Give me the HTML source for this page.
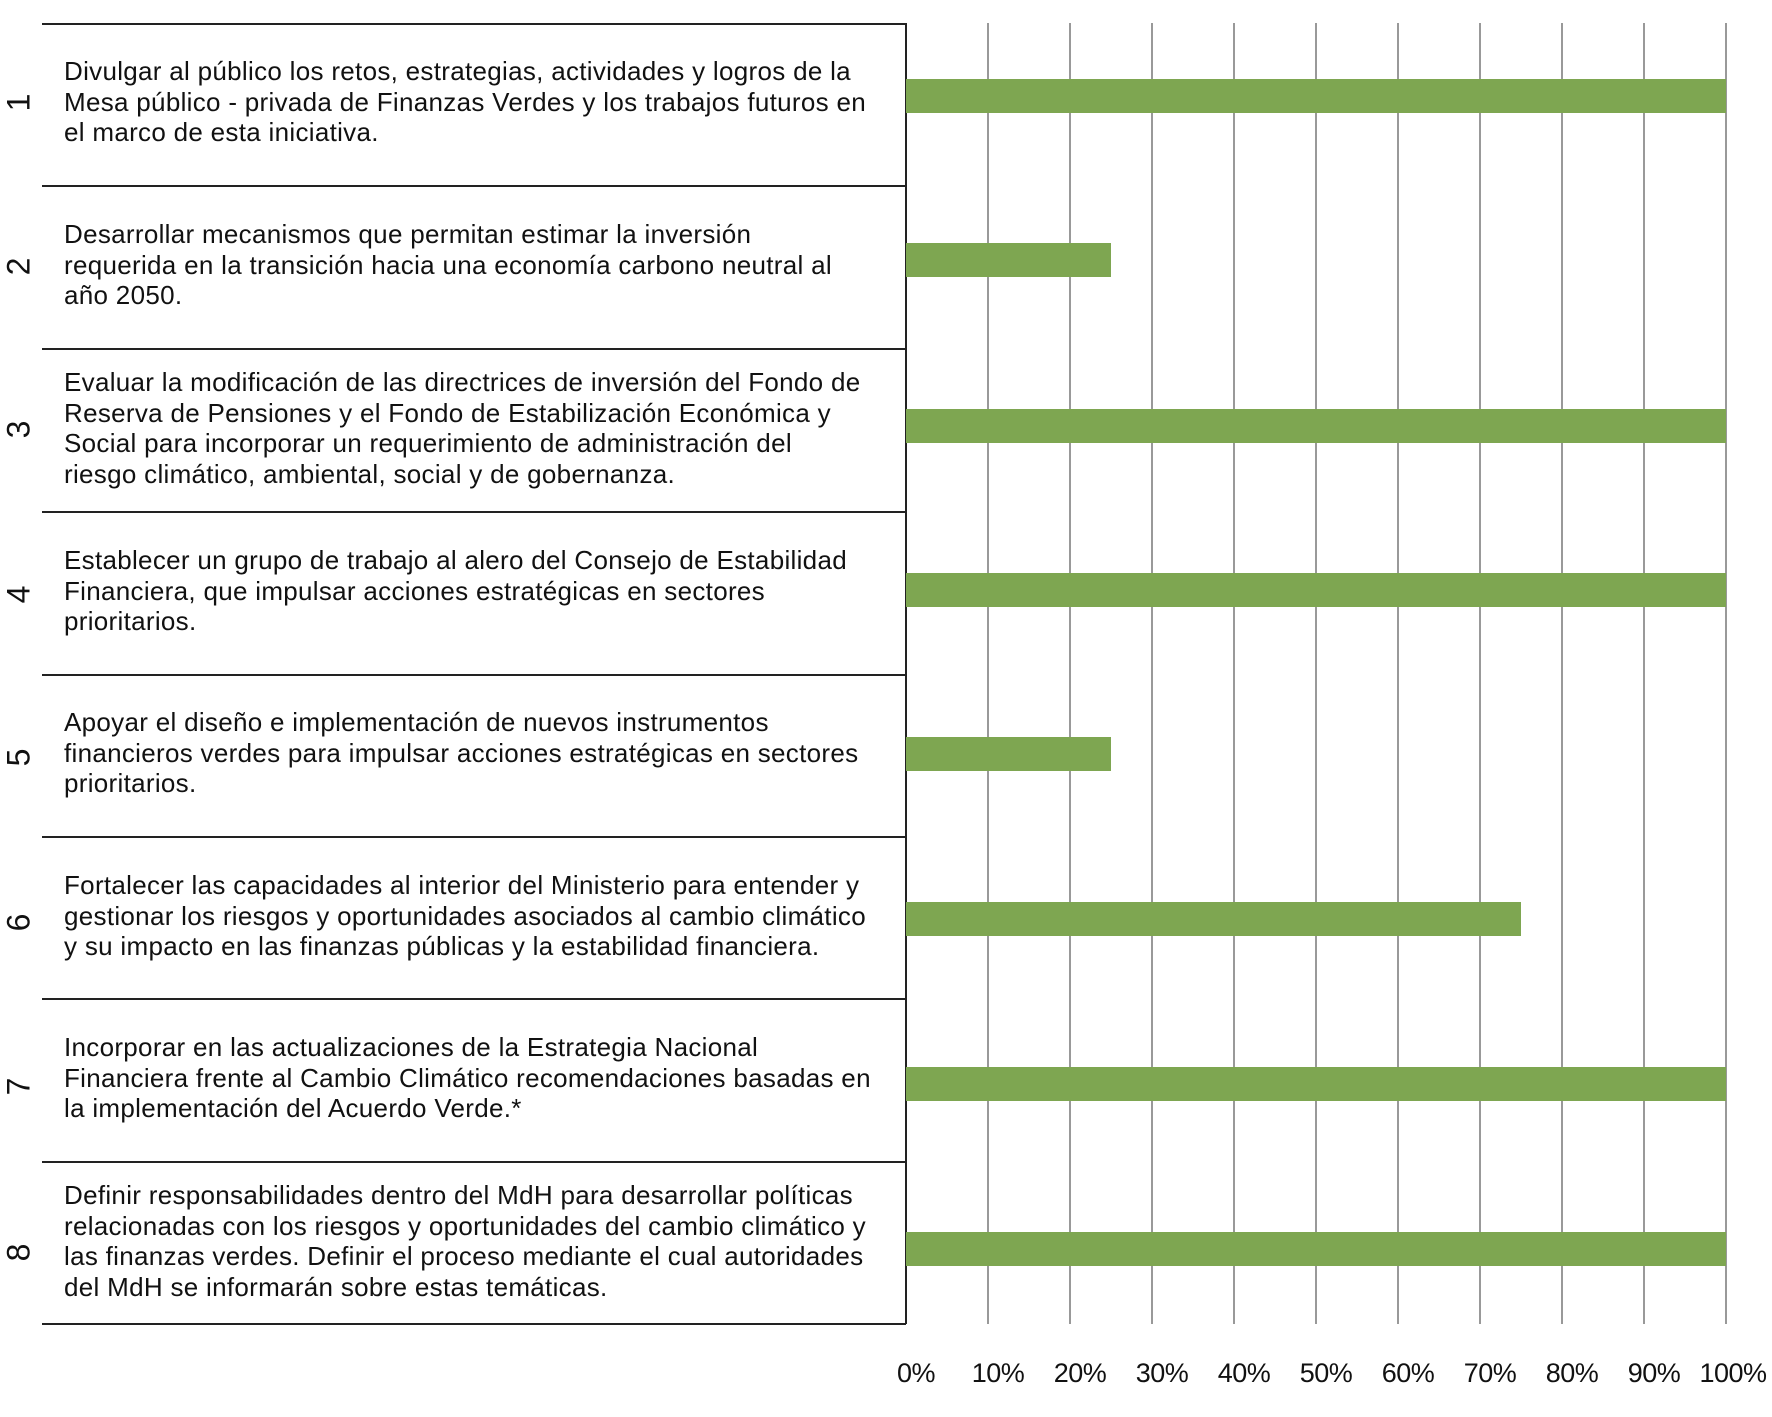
<!DOCTYPE html>
<html><head><meta charset="utf-8"><style>
body{margin:0;width:1772px;height:1417px;background:#fff;position:relative;overflow:hidden;font-family:"Liberation Sans",sans-serif;color:#111}
.h{position:absolute;left:42px;width:864px;height:1.5px;background:#222}
.g{position:absolute;top:23px;height:1301px;width:1.5px;background:#999}
.bar{position:absolute;left:906px;height:34px;background:#7ea651}
.t{position:absolute;left:64px;width:840px;height:158px;display:flex;align-items:center;font-size:26px;line-height:30.5px;letter-spacing:0.3px;white-space:nowrap}
.n{position:absolute;left:4px;width:30px;text-align:center;font-size:32px;transform:rotate(-90deg)}
.ax{position:absolute;top:1358px;font-size:27px;width:80px;text-align:center;letter-spacing:-0.5px}
</style></head><body>
<div class="g" style="left:905px;background:#222"></div>
<div class="g" style="left:987px"></div><div class="g" style="left:1069px"></div><div class="g" style="left:1151px"></div><div class="g" style="left:1233px"></div><div class="g" style="left:1315px"></div><div class="g" style="left:1397px"></div><div class="g" style="left:1479px"></div><div class="g" style="left:1561px"></div><div class="g" style="left:1643px"></div><div class="g" style="left:1725px"></div>
<div class="h" style="top:23px"></div><div class="h" style="top:185px"></div><div class="h" style="top:348px"></div><div class="h" style="top:511px"></div><div class="h" style="top:674px"></div><div class="h" style="top:836px"></div><div class="h" style="top:998px"></div><div class="h" style="top:1161px"></div><div class="h" style="top:1323px"></div>
<div class="bar" style="top:79px;width:820px"></div>
<div class="bar" style="top:243px;width:205px"></div>
<div class="bar" style="top:409px;width:820px"></div>
<div class="bar" style="top:573px;width:820px"></div>
<div class="bar" style="top:737px;width:205px"></div>
<div class="bar" style="top:902px;width:615px"></div>
<div class="bar" style="top:1067px;width:820px"></div>
<div class="bar" style="top:1232px;width:820px"></div>
<div class="t" style="top:23px"><div>Divulgar al público los retos, estrategias, actividades y logros de la<br>Mesa público - privada de Finanzas Verdes y los trabajos futuros en<br>el marco de esta iniciativa.</div></div>
<div class="t" style="top:186px"><div>Desarrollar mecanismos que permitan estimar la inversión<br>requerida en la transición hacia una economía carbono neutral al<br>año 2050.</div></div>
<div class="t" style="top:349px"><div>Evaluar la modificación de las directrices de inversión del Fondo de<br>Reserva de Pensiones y el Fondo de Estabilización Económica y<br>Social para incorporar un requerimiento de administración del<br>riesgo climático, ambiental, social y de gobernanza.</div></div>
<div class="t" style="top:512px"><div>Establecer un grupo de trabajo al alero del Consejo de Estabilidad<br>Financiera, que impulsar acciones estratégicas en sectores<br>prioritarios.</div></div>
<div class="t" style="top:674px"><div>Apoyar el diseño e implementación de nuevos instrumentos<br>financieros verdes para impulsar acciones estratégicas en sectores<br>prioritarios.</div></div>
<div class="t" style="top:837px"><div>Fortalecer las capacidades al interior del Ministerio para entender y<br>gestionar los riesgos y oportunidades asociados al cambio climático<br>y su impacto en las finanzas públicas y la estabilidad financiera.</div></div>
<div class="t" style="top:999px"><div>Incorporar en las actualizaciones de la Estrategia Nacional<br>Financiera frente al Cambio Climático recomendaciones basadas en<br>la implementación del Acuerdo Verde.*</div></div>
<div class="t" style="top:1162px"><div>Definir responsabilidades dentro del MdH para desarrollar políticas<br>relacionadas con los riesgos y oportunidades del cambio climático y<br>las finanzas verdes. Definir el proceso mediante el cual autoridades<br>del MdH se informarán sobre estas temáticas.</div></div>
<div class="n" style="top:84px">1</div><div class="n" style="top:248px">2</div><div class="n" style="top:411px">3</div><div class="n" style="top:576px">4</div><div class="n" style="top:739px">5</div><div class="n" style="top:904px">6</div><div class="n" style="top:1068px">7</div><div class="n" style="top:1234px">8</div>
<div class="ax" style="left:876px">0%</div><div class="ax" style="left:958px">10%</div><div class="ax" style="left:1040px">20%</div><div class="ax" style="left:1122px">30%</div><div class="ax" style="left:1204px">40%</div><div class="ax" style="left:1286px">50%</div><div class="ax" style="left:1368px">60%</div><div class="ax" style="left:1450px">70%</div><div class="ax" style="left:1532px">80%</div><div class="ax" style="left:1614px">90%</div><div class="ax" style="left:1693px">100%</div>
</body></html>
